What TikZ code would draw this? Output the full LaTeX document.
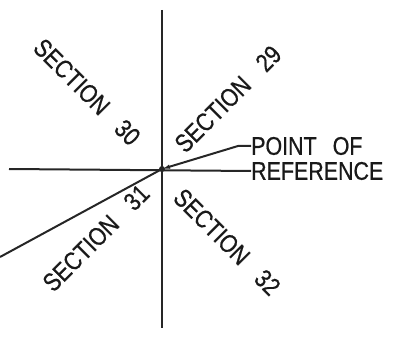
\documentclass[tikz,border=0pt]{standalone}
\usepackage{fontspec}
\usepackage{graphicx}
\newfontfamily\cadfont[FakeBold=0.8]{Liberation Sans}
\usetikzlibrary{arrows.meta}
\newcommand{\cadtext}[1]{\scalebox{0.84}[1]{#1}}
\tikzset{
  x=1pt, y=-1pt,
  lbl/.style={inner sep=0pt, font=\cadfont\fontsize{25.5}{25.5}\selectfont, text=black!90},
  lin/.style={line width=2pt, black!85},
}
\begin{document}
\begin{tikzpicture}
\useasboundingbox (0,0) rectangle (393,339);
\coordinate (O) at (162,169);
\coordinate (T) at (162,10);
\coordinate (B) at (162,328);
\coordinate (L) at (9,169);
\coordinate (SW) at (0,257);
% labels
\node[lbl, anchor=west] (pof) at (251,146) {\cadtext{POINT\hspace{0.75em}OF}};
\node[lbl, anchor=west] (ref) at (251,171) {\cadtext{REFERENCE}};
\node[lbl, rotate=45] (s29) at (228,99) {\cadtext{SECTION\hspace{0.9em}29}};
\node[lbl, rotate=-45] (s30) at (87,92) {\cadtext{SECTION\hspace{0.9em}30}};
\node[lbl, rotate=45] (s31) at (96,238) {\cadtext{SECTION\hspace{0.9em}31}};
\node[lbl, rotate=-45] (s32) at (227,242) {\cadtext{SECTION\hspace{0.9em}32}};
% lines
\draw[lin] (T) -- (B);
\draw[lin] (L) -- (ref.west);
\draw[lin] (SW) -- (O);
\draw[lin, -{Latex[length=8pt,width=4.5pt]}] (pof.west) -- ++(-13,0) -- (O);
\fill[black!85] (O) circle (3pt);
\end{tikzpicture}
\end{document}
